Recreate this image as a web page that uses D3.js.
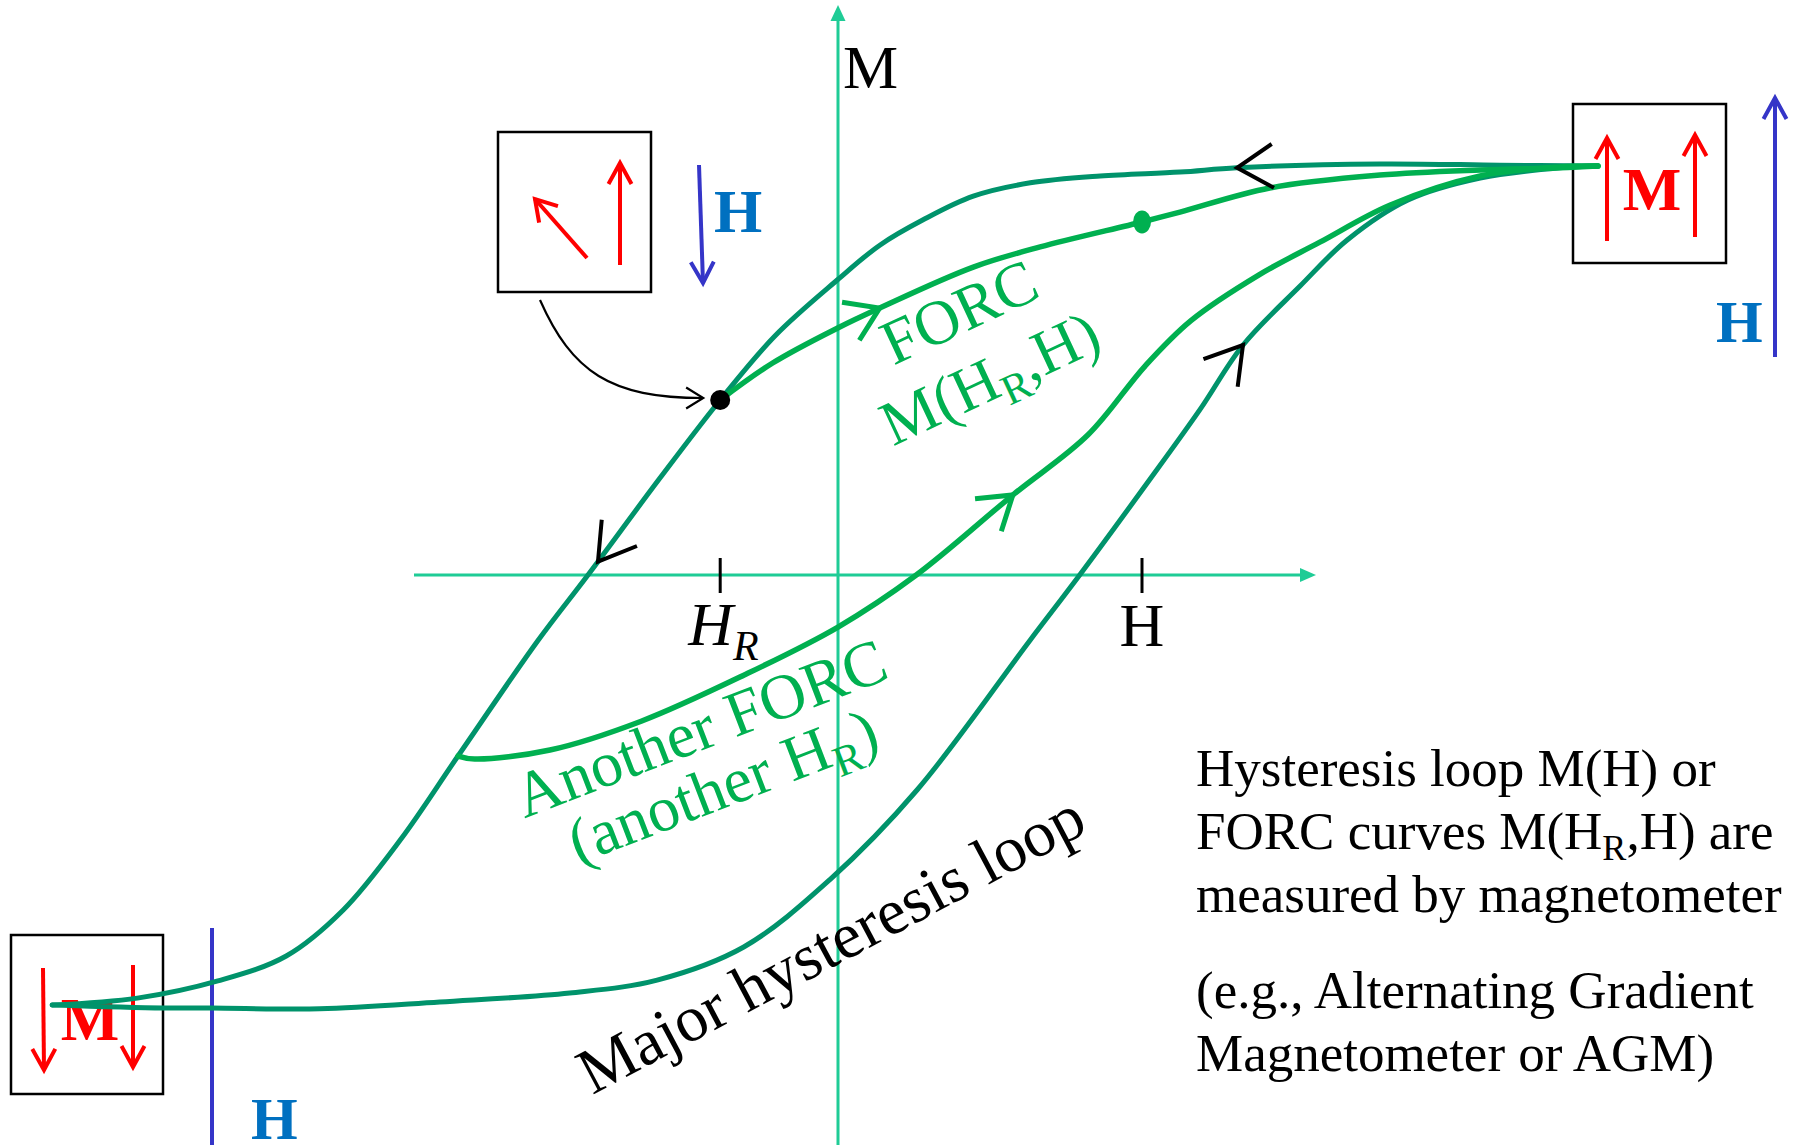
<!DOCTYPE html>
<html>
<head>
<meta charset="utf-8">
<script src="https://cdn.jsdelivr.net/npm/d3@7"></script>
<style>
  html, body { margin: 0; padding: 0; background: #fff; }
  svg { display: block; font-family: "Liberation Serif", "Times New Roman", serif; }
</style>
</head>
<body>
<svg id="chart" width="1795" height="1145"></svg>
<script>
// ---- Data (H = applied field, M = magnetization, normalized units) ----

// Major loop, descending branch (from positive saturation down to negative)
const upperH = [1.000, 0.871, 0.713, 0.525, 0.450, 0.345, 0.253, 0.178, 0.112, 0.055, -0.001, -0.083, -0.155, -0.234, -0.329, -0.395, -0.500, -0.575, -0.651, -0.726, -0.816, -0.922, -1.034];
const upperM = [0.951, 0.953, 0.956, 0.947, 0.937, 0.928, 0.912, 0.881, 0.826, 0.767, 0.686, 0.556, 0.407, 0.226, 0.000, -0.153, -0.421, -0.614, -0.779, -0.886, -0.944, -0.984, -1.000];

// Major loop, ascending branch (from negative saturation up to positive)
const lowerH = [-1.034, -0.888, -0.824, -0.682, -0.524, -0.353, -0.238, -0.124, -0.011, 0.104, 0.253, 0.318, 0.404, 0.476, 0.533, 0.608, 0.670, 0.750, 0.845, 0.950, 1.000];
const lowerM = [-1.000, -1.007, -1.007, -1.009, -0.993, -0.972, -0.942, -0.865, -0.709, -0.500, -0.151, 0.000, 0.207, 0.384, 0.535, 0.672, 0.779, 0.872, 0.923, 0.947, 0.951];

// FORC starting at reversal field HR
const forcH = [-0.155, -0.086, -0.001, 0.055, 0.178, 0.266, 0.400, 0.450, 0.568, 0.713, 0.845, 0.950, 1.000];
const forcM = [0.407, 0.493, 0.574, 0.621, 0.716, 0.763, 0.821, 0.844, 0.900, 0.930, 0.942, 0.947, 0.951];

// Another FORC, from a more negative reversal field
const forc2H = [-0.500, -0.478, -0.379, -0.259, -0.124, 0.000, 0.103, 0.230, 0.329, 0.404, 0.464, 0.554, 0.634, 0.726, 0.845, 0.950, 1.000];
const forc2M = [-0.421, -0.428, -0.407, -0.340, -0.233, -0.121, 0.000, 0.186, 0.326, 0.486, 0.591, 0.698, 0.774, 0.860, 0.928, 0.949, 0.951];

// Marked field values
const reversalField = -0.155;          // HR
const measureField = 0.400;            // H
const measurePoint = [0.400, 0.821];   // M(HR, H)
const reversalPoint = [-0.155, 0.407]; // start of the FORC

// Direction chevrons: field value where each sits on its curve
const majorChevrons = [
  { curve: "upper", H: 0.525 },
  { curve: "upper", H: -0.316 },
  { curve: "lower", H: 0.533 }
];
const forcChevrons = [
  { curve: "forc", H: 0.055 },
  { curve: "forc2", H: 0.230 }
];

// Text blocks
const noteLines1 = ["Hysteresis loop M(H) or", "FORC curves M(H|R|,H) are", "measured by magnetometer"];
const noteLines2 = ["(e.g., Alternating Gradient", "Magnetometer or AGM)"];

// ---- Drawing ----
const svg = d3.select("#chart");
const W = 1795, H = 1145;

const x = d3.scaleLinear().domain([-1, 1]).range([78, 1598]);
const y = d3.scaleLinear().domain([-1, 1]).range([1005, 145]);

const colAxis = "#1fcc96";
const colMajor = "#00936b";
const colForc = "#00b050";
const colBlue = "#3535c8";
const colBlueText = "#0070c0";
const colRed = "#ff0000";

const zip = (a, b) => a.map((v, i) => [v, b[i]]);
const line = d3.line().x(d => x(d[0])).y(d => y(d[1])).curve(d3.curveCatmullRom.alpha(0.5));

// open arrow head helper
function headPath(tx, ty, ang, len, half) {
  const a1 = ang + Math.PI - half, a2 = ang + Math.PI + half;
  return `M${tx + len * Math.cos(a1)},${ty + len * Math.sin(a1)}L${tx},${ty}L${tx + len * Math.cos(a2)},${ty + len * Math.sin(a2)}`;
}
function arrow(g, x1, y1, x2, y2, color, w, len, half) {
  g.append("line").attr("x1", x1).attr("y1", y1).attr("x2", x2).attr("y2", y2)
    .attr("stroke", color).attr("stroke-width", w);
  g.append("path").attr("d", headPath(x2, y2, Math.atan2(y2 - y1, x2 - x1), len, half))
    .attr("fill", "none").attr("stroke", color).attr("stroke-width", w).attr("stroke-linecap", "butt");
}

// Axes
const axes = svg.append("g");
const axisLeft = 414, axisRight = 1316, axisTop = 5;
axes.append("line").attr("x1", axisLeft).attr("x2", axisRight - 12).attr("y1", y(0)).attr("y2", y(0))
  .attr("stroke", colAxis).attr("stroke-width", 3);
axes.append("path").attr("d", `M${axisRight},${y(0)}L${axisRight - 16},${y(0) - 7}L${axisRight - 16},${y(0) + 7}Z`)
  .attr("fill", colAxis);
axes.append("line").attr("x1", x(0)).attr("x2", x(0)).attr("y1", axisTop + 12).attr("y2", H)
  .attr("stroke", colAxis).attr("stroke-width", 3);
axes.append("path").attr("d", `M${x(0)},${axisTop}L${x(0) - 7.5},${axisTop + 16}L${x(0) + 7.5},${axisTop + 16}Z`)
  .attr("fill", colAxis);

axes.append("text").attr("x", x(0) + 5).attr("y", 88).attr("font-size", 62).attr("fill", "#000").text("M");

// Ticks HR and H
[reversalField, measureField].forEach(v => {
  axes.append("line").attr("x1", x(v)).attr("x2", x(v)).attr("y1", 558).attr("y2", 593)
    .attr("stroke", "#000").attr("stroke-width", 3);
});
const hr = axes.append("text").attr("x", x(reversalField) - 32).attr("y", 645).attr("font-size", 62)
  .attr("font-style", "italic").attr("fill", "#000");
hr.append("tspan").text("H");
hr.append("tspan").attr("font-size", 42).attr("dy", 15).text("R");
axes.append("text").attr("x", x(measureField)).attr("y", 646).attr("font-size", 62)
  .attr("text-anchor", "middle").attr("fill", "#000").text("H");

// Boxes with moment sketches
const boxes = svg.append("g");
function box(x0, y0, x1, y1) {
  boxes.append("rect").attr("x", x0).attr("y", y0).attr("width", x1 - x0).attr("height", y1 - y0)
    .attr("fill", "none").attr("stroke", "#000").attr("stroke-width", 2.5);
}
box(498, 132, 651, 292);
arrow(boxes, 587, 258, 535, 199, colRed, 4, 24, 0.55);
arrow(boxes, 620, 265, 620, 163, colRed, 4, 24, 0.5);
arrow(boxes, 699, 165, 703, 283, colBlue, 4, 24, 0.5);
boxes.append("text").attr("x", 714).attr("y", 232).attr("font-size", 62).attr("font-weight", "bold")
  .attr("fill", colBlueText).text("H");

box(1573, 104, 1726, 263);
arrow(boxes, 1607, 241, 1607, 138, colRed, 4, 24, 0.5);
arrow(boxes, 1695, 237, 1695, 135, colRed, 4, 24, 0.5);
boxes.append("text").attr("x", 1652).attr("y", 210).attr("font-size", 62).attr("font-weight", "bold")
  .attr("text-anchor", "middle").attr("fill", colRed).text("M");
arrow(boxes, 1775, 357, 1775, 98, colBlue, 4, 24, 0.5);
boxes.append("text").attr("x", 1716).attr("y", 342).attr("font-size", 60).attr("font-weight", "bold")
  .attr("fill", colBlueText).text("H");

box(11, 935, 163, 1094);
arrow(boxes, 43, 968, 44, 1070, colRed, 4, 24, 0.5);
arrow(boxes, 133, 965, 133, 1067, colRed, 4, 24, 0.5);
boxes.append("text").attr("x", 90).attr("y", 1040).attr("font-size", 62).attr("font-weight", "bold")
  .attr("text-anchor", "middle").attr("fill", colRed).text("M");
boxes.append("line").attr("x1", 212).attr("x2", 212).attr("y1", 928).attr("y2", H)
  .attr("stroke", colBlue).attr("stroke-width", 4);
boxes.append("text").attr("x", 251).attr("y", 1139).attr("font-size", 60).attr("font-weight", "bold")
  .attr("fill", colBlueText).text("H");

// Curves
const curves = svg.append("g").attr("fill", "none").attr("stroke-linecap", "round");
const paths = {};
paths.upper = curves.append("path").attr("d", line(zip(upperH, upperM))).attr("stroke", colMajor).attr("stroke-width", 5);
paths.lower = curves.append("path").attr("d", line(zip(lowerH, lowerM))).attr("stroke", colMajor).attr("stroke-width", 5);
paths.forc2 = curves.append("path").attr("d", line(zip(forc2H, forc2M))).attr("stroke", colForc).attr("stroke-width", 5.5);
paths.forc = curves.append("path").attr("d", line(zip(forcH, forcM))).attr("stroke", colForc).attr("stroke-width", 5.5);

// Chevrons along the curves, oriented with the sweep direction
function chevron(spec, color, w, len, half) {
  const node = paths[spec.curve].node();
  const total = node.getTotalLength();
  const tx = x(spec.H);
  let best = 0, bd = Infinity;
  for (let l = 0; l <= total; l += 0.5) {
    const p = node.getPointAtLength(l);
    const d = Math.abs(p.x - tx);
    if (d < bd) { bd = d; best = l; }
  }
  const p = node.getPointAtLength(best);
  const p0 = node.getPointAtLength(Math.max(0, best - 5));
  const p1 = node.getPointAtLength(Math.min(total, best + 5));
  const ang = Math.atan2(p1.y - p0.y, p1.x - p0.x);
  svg.append("path").attr("d", headPath(p.x, p.y, ang, len, half))
    .attr("fill", "none").attr("stroke", color).attr("stroke-width", w);
}
majorChevrons.forEach(c => chevron(c, "#000", 4, 42, 0.55));
forcChevrons.forEach(c => chevron(c, colForc, 5, 38, 0.58));

// Points: reversal (black) and measurement (green)
svg.append("circle").attr("cx", x(reversalPoint[0])).attr("cy", y(reversalPoint[1])).attr("r", 10).attr("fill", "#000");
svg.append("ellipse").attr("cx", x(measurePoint[0])).attr("cy", y(measurePoint[1])).attr("rx", 9).attr("ry", 11.5).attr("fill", colForc);

// Curved pointer from the top-left box to the reversal point
const ptr = svg.append("g");
const rx = x(reversalPoint[0]) - 17, ry = y(reversalPoint[1]) - 2;
ptr.append("path").attr("d", `M540,300 C572,372 610,${ry} ${rx},${ry}`)
  .attr("fill", "none").attr("stroke", "#000").attr("stroke-width", 2.2);
ptr.append("path").attr("d", headPath(rx, ry, 0, 20, 0.55)).attr("fill", "none").attr("stroke", "#000").attr("stroke-width", 2.2);

// Rotated curve labels
function subText(sel, str, size) {
  // "|R|" marks a subscript
  const parts = str.split("|");
  parts.forEach((s, i) => {
    if (i % 2 === 1) {
      sel.append("tspan").attr("font-size", size * 0.68).attr("dy", size * 0.2).text(s);
    } else {
      const t = sel.append("tspan").text(s);
      if (i > 0) t.attr("dy", -size * 0.2);
    }
  });
}
const lab1 = svg.append("g").attr("transform", "translate(968,331) rotate(-25)")
  .attr("fill", colForc).attr("font-size", 63).attr("text-anchor", "middle");
lab1.append("text").attr("x", 0).attr("y", 0).text("FORC");
subText(lab1.append("text").attr("x", 0).attr("y", 73), "M(H|R|,H)", 63);

const lab2 = svg.append("g").attr("transform", "translate(708,748) rotate(-21)")
  .attr("fill", colForc).attr("font-size", 64).attr("text-anchor", "middle");
lab2.append("text").attr("x", 0).attr("y", 0).text("Another FORC");
subText(lab2.append("text").attr("x", 0).attr("y", 62), "(another H|R|)", 64);

svg.append("g").attr("transform", "translate(841,963) rotate(-28)")
  .append("text").attr("text-anchor", "middle").attr("font-size", 65).attr("fill", "#000")
  .text("Major hysteresis loop");

// Explanatory note
const note = svg.append("g").attr("font-size", 53).attr("fill", "#000");
noteLines1.forEach((s, i) => subText(note.append("text").attr("x", 1196).attr("y", 786 + i * 63), s, 53));
noteLines2.forEach((s, i) => subText(note.append("text").attr("x", 1196).attr("y", 1008 + i * 63), s, 53));
</script>
</body>
</html>
